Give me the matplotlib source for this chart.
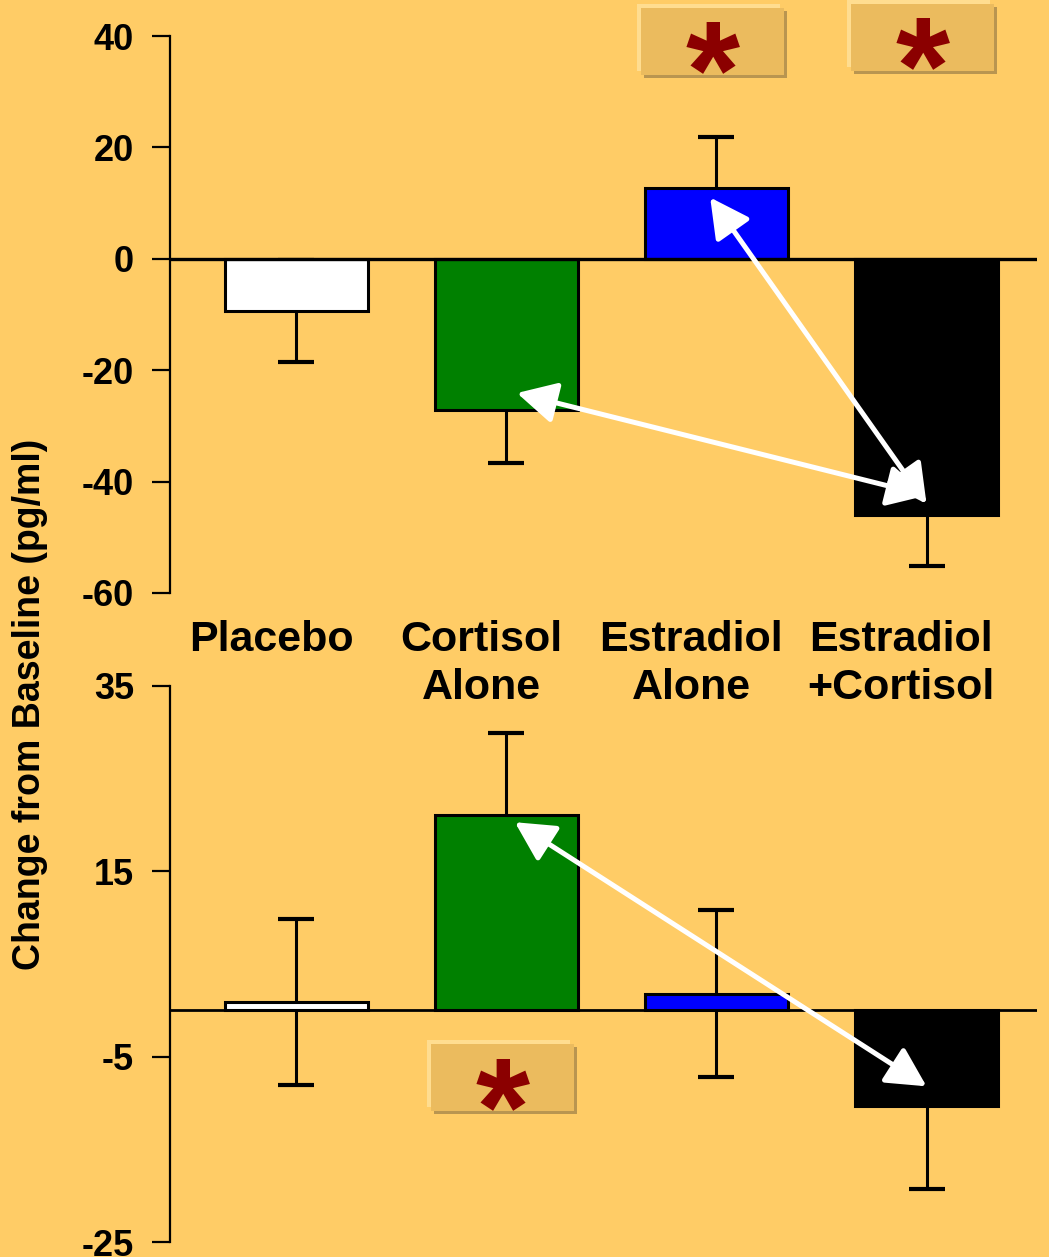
import matplotlib
matplotlib.use("Agg")
import matplotlib.pyplot as plt
from matplotlib.patches import Rectangle
from matplotlib import transforms

plt.rcParams['font.family'] = ['Liberation Sans', 'DejaVu Sans']
plt.rcParams['font.weight'] = 'bold'

# ---------------- data ----------------
categories = ["Placebo", "Cortisol\nAlone", "Estradiol\nAlone", "Estradiol\n+Cortisol"]
bar_colors = ["white", "#008000", "#0000FF", "black"]

top_values = [-9.4, -27.1, 12.7, -46.0]
top_errors = [9.2, 9.5, 9.1, 9.1]
top_ticks = [-60, -40, -20, 0, 20, 40]

bottom_values = [0.9, 21.1, 1.8, -10.3]
bottom_errors = [9.0, 8.8, 9.0, 9.0]
bottom_ticks = [-25, -5, 15, 35]

# significance boxes: (category index, value at box centre)
top_sig = [(2, 39.0), (3, 39.7)]
bottom_sig = [(1, -7.3)]

# double-headed comparison arrows: ((cat, value), (cat, value))
top_arrows = [((1.97, 11.0), (3.0, -44.0)), ((1.05, -24.1), (3.0, -42.5))]
bottom_arrows = [((1.04, 20.3), (3.0, -8.2))]

BG = "#FFCC66"
W, H = 1049, 1257
fig = plt.figure(figsize=(W / 100, H / 100), dpi=100, facecolor=BG)

ax1 = fig.add_axes([170 / W, 1 - 593 / H, 867 / W, 557 / H])
ax2 = fig.add_axes([170 / W, 1 - 1242 / H, 867 / W, 556 / H])

x = list(range(len(categories)))


def style(ax, ticks):
    ax.set_facecolor(BG)
    ax.patch.set_alpha(0)
    for s in ("top", "right", "bottom"):
        ax.spines[s].set_visible(False)
    ax.spines["left"].set_linewidth(1.6)
    ax.set_xlim(-0.602, 3.526)
    ax.set_ylim(ticks[0], ticks[-1])
    ax.set_yticks(ticks)
    ax.set_yticklabels([str(t) for t in ticks], fontsize=26, fontweight="bold")
    ax.tick_params(axis="y", direction="out", length=13, width=1.6, pad=13)
    ax.set_xticks([])


def draw_panel(ax, vals, errs, ticks, sigs, arrows, zlw):
    style(ax, ticks)
    ax.errorbar(x, vals, yerr=errs, fmt="none", ecolor="black", elinewidth=2.2,
                capsize=13, capthick=3, zorder=2)
    ax.bar(x, vals, width=0.68, color=bar_colors, edgecolor="black",
           linewidth=2.2, zorder=3)
    ax.axhline(0, color="black", lw=zlw, zorder=4)
    for (s, e) in arrows:
        ax.annotate("", xy=e, xytext=s,
                    arrowprops=dict(arrowstyle="<|-|>,head_length=0.8,head_width=0.42",
                                    color="white", lw=3.6, mutation_scale=30,
                                    shrinkA=0, shrinkB=0),
                    zorder=6, annotation_clip=False)
    # significance boxes
    ppu = ax.get_window_extent().height / (ticks[-1] - ticks[0])
    bw = 0.681
    bh = 67 / ppu
    for (ci, yc) in sigs:
        xc = ci - 0.02
        light = transforms.offset_copy(ax.transData, fig=fig, x=-4, y=4, units="dots")
        shadow = transforms.offset_copy(ax.transData, fig=fig, x=3, y=-3, units="dots")
        for tr, col in ((light, "#FFDD90"), (shadow, "#B99550"), (ax.transData, "#EBBB5E")):
            ax.add_patch(Rectangle((xc - bw / 2, yc - bh / 2), bw, bh, facecolor=col,
                                   edgecolor="none", transform=tr, clip_on=False, zorder=7))
        fs = 100
        ttr = transforms.offset_copy(ax.transData, fig=fig, x=0, y=-0.545 * fs, units="points")
        ax.text(xc, yc, "*", color="#8B0000", fontsize=fs, fontweight="bold",
                ha="center", va="baseline", transform=ttr, zorder=8, clip_on=False)


draw_panel(ax1, top_values, top_errors, top_ticks, top_sig, top_arrows, 2.4)
draw_panel(ax2, bottom_values, bottom_errors, bottom_ticks, bottom_sig, bottom_arrows, 2.0)

lab_tr = transforms.blended_transform_factory(ax1.transData, fig.transFigure)
for i, c in enumerate(categories):
    fig.text(i - 0.12, 1 - 620 / H, c, transform=lab_tr, ha="center", va="top",
             fontsize=31, fontweight="bold", linespacing=1.27, multialignment="center")

fig.text(30 / W, 1 - 704 / H, "Change from Baseline (pg/ml)", rotation=90,
         ha="center", va="center", fontsize=27, fontweight="bold")

fig.savefig("out.png", dpi=100, facecolor=BG)
